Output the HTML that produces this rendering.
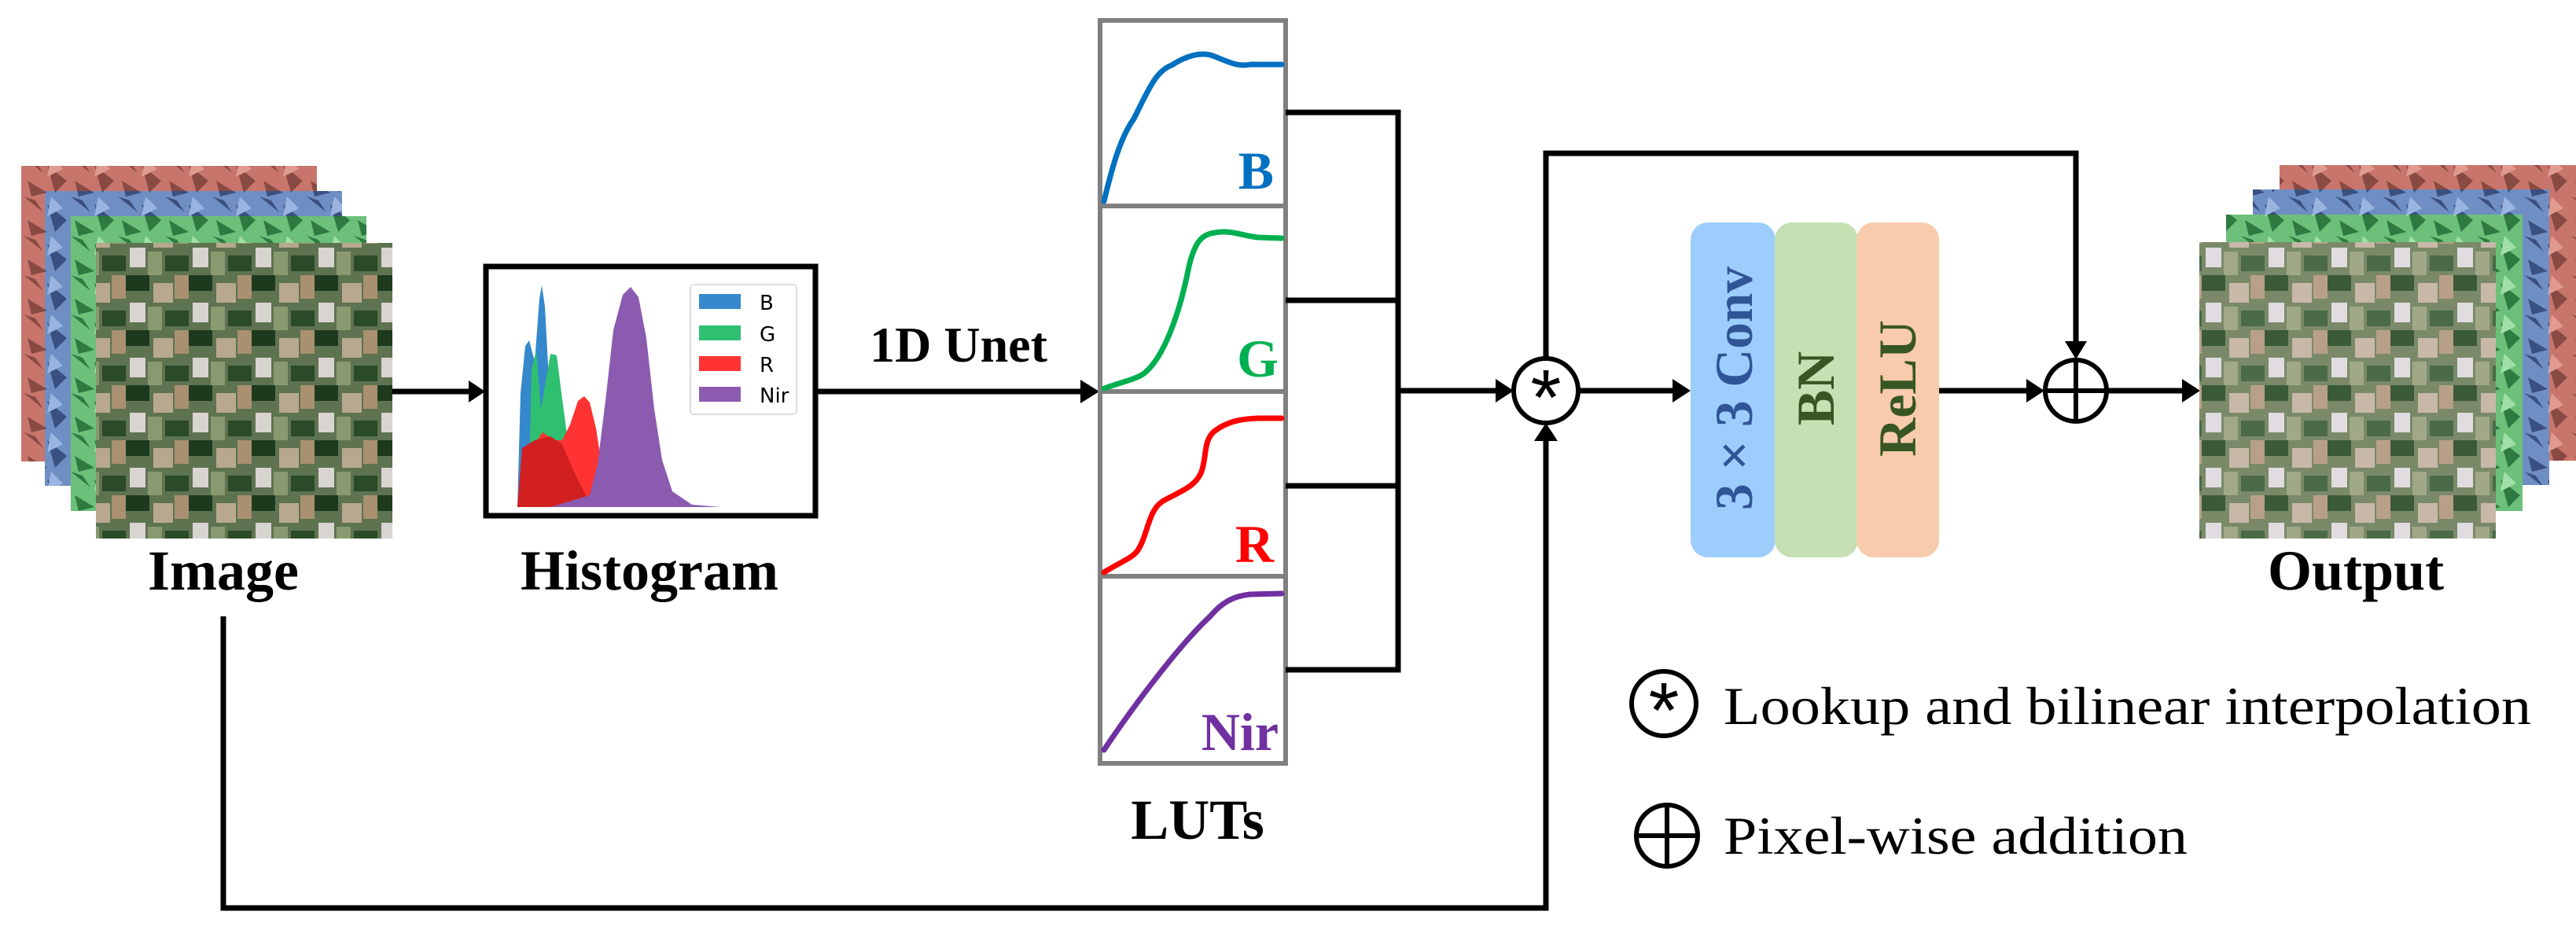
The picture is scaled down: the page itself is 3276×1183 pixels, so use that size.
<!DOCTYPE html>
<html><head><meta charset="utf-8"><style>html,body{margin:0;padding:0;background:#fff}svg{display:block}</style></head>
<body>
<svg width="3276" height="1183" viewBox="0 0 3276 1183" xmlns="http://www.w3.org/2000/svg" font-family="'Liberation Serif',serif">
<defs>
<pattern id="pr" width="60" height="50" patternUnits="userSpaceOnUse"><rect width="60" height="50" fill="#c8766c"/><path d="M0 10 L25 30 L10 45 Z M30 0 L55 20 L45 5 Z M35 30 L60 45 L40 50 Z" fill="#8a4a44"/><path d="M5 0 L20 15 L0 25Z" fill="#e09a90"/></pattern>
<pattern id="pb" width="60" height="50" patternUnits="userSpaceOnUse"><rect width="60" height="50" fill="#6f8fc4"/><path d="M0 10 L25 30 L10 45 Z M30 0 L55 20 L45 5 Z M35 30 L60 45 L40 50 Z" fill="#3a5080"/><path d="M5 0 L20 15 L0 25Z" fill="#9ab4e0"/></pattern>
<pattern id="pg" width="60" height="50" patternUnits="userSpaceOnUse"><rect width="60" height="50" fill="#6cc07a"/><path d="M0 10 L25 30 L10 45 Z M30 0 L55 20 L45 5 Z M35 30 L60 45 L40 50 Z" fill="#2e7a40"/><path d="M5 0 L20 15 L0 25Z" fill="#a0e0a8"/></pattern>
<pattern id="pf" width="80" height="70" patternUnits="userSpaceOnUse"><rect width="80" height="70" fill="#5e7350"/><rect x="0" y="0" width="30" height="20" fill="#1e3a1e"/><rect x="35" y="10" width="25" height="25" fill="#b8a890"/><rect x="5" y="35" width="20" height="25" fill="#d8d4d0"/><rect x="50" y="45" width="30" height="20" fill="#2a4a28"/><rect x="28" y="40" width="18" height="30" fill="#8a9a70"/><rect x="62" y="0" width="18" height="30" fill="#a89070"/></pattern>
<pattern id="po" width="80" height="70" patternUnits="userSpaceOnUse"><rect width="80" height="70" fill="#7a8a68"/><rect x="0" y="0" width="30" height="20" fill="#3a5a38"/><rect x="35" y="10" width="25" height="25" fill="#c8b8a8"/><rect x="5" y="35" width="20" height="25" fill="#e0dce0"/><rect x="50" y="45" width="30" height="20" fill="#4a6a48"/><rect x="28" y="40" width="18" height="30" fill="#a0a888"/><rect x="62" y="0" width="18" height="30" fill="#b8a088"/></pattern>
</defs>

<rect x="27" y="211" width="376" height="376" fill="url(#pr)"/>
<rect x="57" y="243" width="378" height="375" fill="url(#pb)"/>
<rect x="90" y="275" width="376" height="375" fill="url(#pg)"/>
<rect x="122" y="309" width="377" height="376" fill="url(#pf)"/>
<text x="284" y="750" font-size="72" font-weight="bold" text-anchor="middle">Image</text>

<line x1="499" y1="498" x2="612" y2="498" stroke="#000" stroke-width="7"/>
<path d="M596 484 L617 498 L596 512Z"/>

<rect x="618" y="339" width="419" height="317" fill="#fff" stroke="#000" stroke-width="7"/>
<path d="M658 645 L662 500 L668 440 L673 433 L680 460 L686 380 L689 363 L693 390 L700 520 L705 560 L708 645Z" fill="#3588cc"/>
<path d="M672 645 L676 470 L682 445 L688 520 L700 450 L708 452 L714 500 L722 560 L730 600 L740 645Z" fill="#2fbf70"/>
<path d="M658 645 L664 570 L672 575 L690 550 L705 560 L715 560 L725 540 L735 510 L743 504 L750 512 L758 545 L765 590 L775 625 L790 645Z" fill="#ff3333"/>
<path d="M658 645 L664 570 L680 560 L700 555 L715 565 L730 600 L750 640 L760 645Z" fill="#d22020"/>
<path d="M700 645 L750 630 L760 590 L770 510 L780 420 L792 375 L802 365 L812 378 L822 430 L832 520 L842 585 L855 625 L880 642 L917 645Z" fill="#8b5bb0"/>
<rect x="878" y="362" width="135" height="165" rx="4" fill="#fff" stroke="#ddd" stroke-width="2"/>
<rect x="889" y="374" width="53" height="19" fill="#3588cc"/>
<rect x="889" y="414" width="53" height="19" fill="#2fbf70"/>
<rect x="889" y="453" width="53" height="19" fill="#ff3333"/>
<rect x="889" y="492" width="53" height="19" fill="#8b5bb0"/>
<g font-family="'DejaVu Sans',sans-serif" font-size="26" fill="#000">
<text x="966" y="394">B</text><text x="966" y="434">G</text><text x="966" y="473">R</text><text x="966" y="512">Nir</text></g>
<text x="826" y="750" font-size="72" font-weight="bold" text-anchor="middle">Histogram</text>

<text x="1219" y="460" font-size="64" font-weight="bold" text-anchor="middle">1D Unet</text>
<line x1="1037" y1="498" x2="1380" y2="498" stroke="#000" stroke-width="7"/>
<path d="M1374 483 L1398 498 L1374 513Z"/>

<g fill="#fff" stroke="#808080" stroke-width="6">
<rect x="1399" y="26" width="236" height="236"/>
<rect x="1399" y="262" width="236" height="236"/>
<rect x="1399" y="498" width="236" height="235"/>
<rect x="1399" y="733" width="236" height="238"/>
</g>
<g fill="none" stroke-width="7" stroke-linecap="round" stroke-linejoin="round">
<path d="M1404 256 C1415 210 1425 175 1442 151 C1460 115 1470 90 1490 83 C1510 70 1530 65 1545 72 C1565 80 1575 85 1590 82 L1630 82" stroke="#0070c0"/>
<path d="M1404 494 C1430 485 1445 482 1455 475 C1480 455 1500 400 1512 339 C1520 305 1530 298 1545 296 C1565 292 1580 300 1600 302 L1630 303" stroke="#00b050"/>
<path d="M1404 728 C1425 715 1440 710 1447 700 C1460 680 1460 650 1478 638 C1500 625 1520 620 1528 600 C1535 580 1530 560 1545 548 C1560 537 1575 533 1600 532 L1630 532" stroke="#ff0000"/>
<path d="M1404 954 C1440 900 1500 820 1539 784 C1555 765 1570 758 1590 756 L1630 755" stroke="#7030a0"/>
</g>
<g font-size="68" font-weight="bold" text-anchor="end">
<text x="1620" y="240" fill="#0070c0">B</text>
<text x="1626" y="479" fill="#00b050">G</text>
<text x="1620" y="715" fill="#ff0000">R</text>
<text x="1626" y="954" fill="#7030a0">Nir</text>
</g>
<text x="1523" y="1067" font-size="72" font-weight="bold" text-anchor="middle">LUTs</text>

<g stroke="#000" stroke-width="7" fill="none">
<path d="M1635 143 L1778 143 L1778 852 L1635 852"/>
<line x1="1635" y1="382" x2="1778" y2="382"/>
<line x1="1635" y1="618" x2="1778" y2="618"/>
<line x1="1778" y1="497" x2="1905" y2="497"/>
<path d="M1966 456 L1966 195 L2640 195 L2640 437"/>
<path d="M284 784 L284 1155 L1966 1155 L1966 560"/>
<line x1="2007" y1="497" x2="2130" y2="497"/>
<line x1="2466" y1="497" x2="2580" y2="497"/>
<line x1="2680" y1="497" x2="2778" y2="497"/>
</g>
<path d="M1902 482 L1925 497 L1902 512Z"/>
<path d="M2626 434 L2640 457 L2654 434Z"/>
<path d="M1951 561 L1966 538 L1981 561Z"/>
<path d="M2127 482 L2150 497 L2127 512Z"/>
<path d="M2577 482 L2600 497 L2577 512Z"/>
<path d="M2775 482 L2798 497 L2775 512Z"/>

<circle cx="1966" cy="497" r="41" fill="#fff" stroke="#000" stroke-width="6"/>
<text x="1966" y="540" font-size="100" text-anchor="middle" font-family="'Liberation Sans',sans-serif">*</text>
<circle cx="2640" cy="497" r="39" fill="#fff" stroke="#000" stroke-width="6"/>
<path d="M2601 497 L2679 497 M2640 458 L2640 536" stroke="#000" stroke-width="6"/>

<rect x="2150" y="283" width="108" height="426" rx="22" fill="#9dcdfc"/>
<rect x="2257" y="283" width="106" height="426" rx="22" fill="#c5e0b3"/>
<rect x="2361" y="283" width="105" height="426" rx="22" fill="#f7cbac"/>
<g font-size="68" font-weight="bold" text-anchor="middle">
<text transform="translate(2228,494) rotate(-90)" fill="#2f5597" textLength="310" lengthAdjust="spacingAndGlyphs">3 × 3 Conv</text>
<text transform="translate(2332,494) rotate(-90)" fill="#375623">BN</text>
<text transform="translate(2436,494) rotate(-90)" fill="#375623">ReLU</text>
</g>

<rect x="2899" y="210" width="377" height="376" fill="url(#pr)"/>
<rect x="2865" y="241" width="377" height="376" fill="url(#pb)"/>
<rect x="2831" y="273" width="377" height="377" fill="url(#pg)"/>
<rect x="2797" y="308" width="377" height="377" fill="url(#po)"/>
<text x="2996" y="750" font-size="72" font-weight="bold" text-anchor="middle">Output</text>

<circle cx="2116" cy="895" r="41" fill="#fff" stroke="#000" stroke-width="6"/>
<text x="2116" y="938" font-size="100" text-anchor="middle" font-family="'Liberation Sans',sans-serif">*</text>
<text x="2192" y="921" font-size="68" textLength="1027" lengthAdjust="spacingAndGlyphs">Lookup and bilinear interpolation</text>
<circle cx="2120" cy="1063" r="39" fill="#fff" stroke="#000" stroke-width="6"/>
<path d="M2081 1063 L2159 1063 M2120 1024 L2120 1102" stroke="#000" stroke-width="6"/>
<text x="2192" y="1086" font-size="68" textLength="590" lengthAdjust="spacingAndGlyphs">Pixel-wise addition</text>
</svg>
</body></html>
